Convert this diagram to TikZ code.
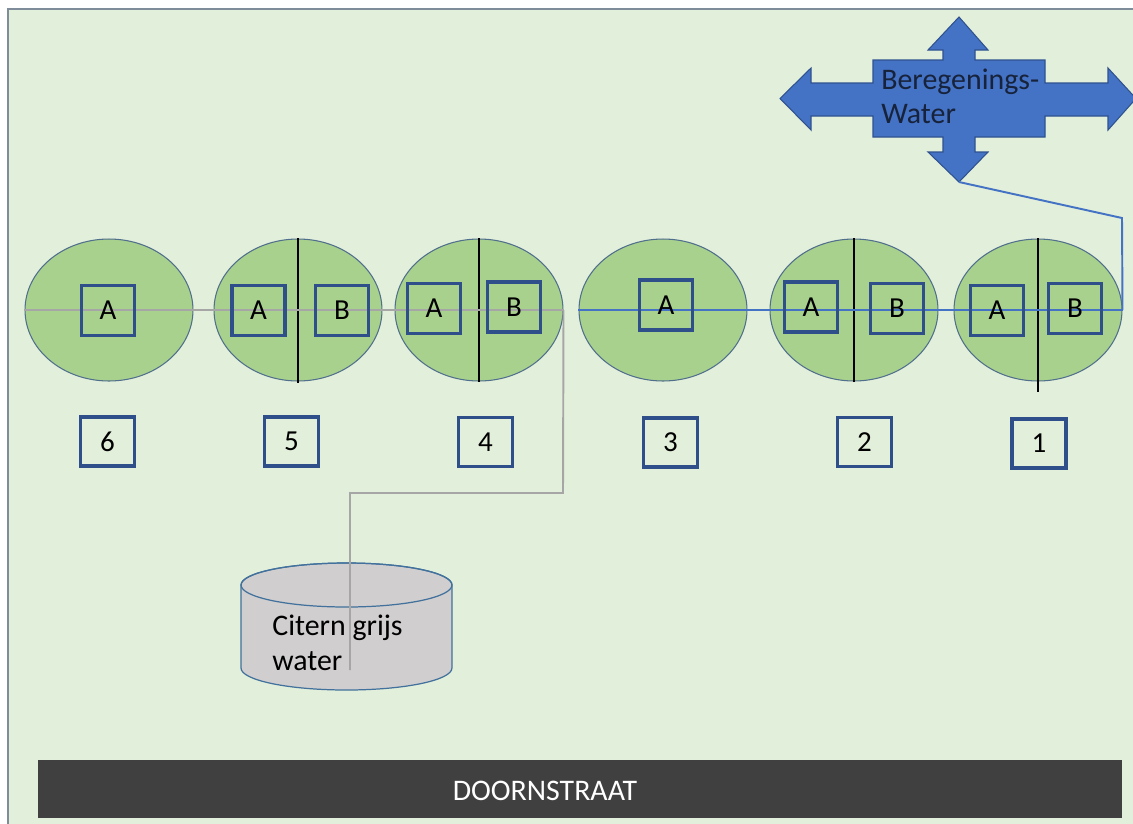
\documentclass[tikz,border=0pt]{standalone}
\usepackage{fontspec}
\setmainfont{Carlito}
\usetikzlibrary{shapes.geometric}
\definecolor{bggreen}{HTML}{E2EFDA}
\definecolor{frame}{HTML}{7F8C99}
\definecolor{ellfill}{HTML}{A9D18E}
\definecolor{elldraw}{HTML}{4F6F8C}
\definecolor{sqdraw}{HTML}{2E4F8A}
\definecolor{pipegray}{HTML}{A6A6A6}
\definecolor{pipeblue}{HTML}{4472C4}
\definecolor{arrfill}{HTML}{4472C4}
\definecolor{arrdraw}{HTML}{2F528F}
\definecolor{tankfill}{HTML}{D0CECE}
\definecolor{tankdraw}{HTML}{41719C}
\definecolor{road}{HTML}{404040}
\definecolor{navytext}{HTML}{17223B}
\tikzset{
  bed/.style={ellipse, draw=elldraw, fill=ellfill, line width=0.6pt, minimum width=3.36cm, minimum height=2.84cm, inner sep=0pt},
  sq/.style={draw=sqdraw, line width=2.1pt, minimum width=1.06cm, minimum height=1.0cm, inner sep=0pt, font=\fontsize{16.5}{19}\selectfont},
  num/.style={draw=sqdraw, line width=2.1pt, minimum width=1.08cm, minimum height=0.98cm, inner sep=0pt, font=\fontsize{16.5}{19}\selectfont},
  divider/.style={black, line width=1.2pt},
  graypipe/.style={pipegray, line width=1.1pt},
  bluepipe/.style={pipeblue, line width=1.1pt},
}
\begin{document}
\begin{tikzpicture}[x=0.02cm, y=-0.02cm]
\useasboundingbox (0,0) rectangle (1133,823);
\fill[white] (0,0) rectangle (1133,823);
\filldraw[fill=bggreen, draw=frame, line width=0.9pt] (8,9) rectangle (1145,835);

% beds
\node[bed] (e6) at (109,310) {};
\node[bed] (e5) at (298,310) {};
\node[bed] (e4) at (479,310) {};
\node[bed] (e3) at (663,310) {};
\node[bed] (e2) at (854,310) {};
\node[bed] (e1) at (1038,310) {};

% dividers
\draw[divider] (e5.north) -- (298,383);
\draw[divider] (e4.north) -- (e4.south);
\draw[divider] (e2.north) -- (e2.south);
\draw[divider] (e1.north) -- (1038,392);

% pipes
\draw[graypipe] (e6.west) -- (e4.east);
\draw[bluepipe] (e3.west) -- (e1.east);

% letter squares
\node[sq] (s6a) at (108,310.5) {A};
\node[sq] (s5a) at (258.5,310.5) {A};
\node[sq] (s5b) at (342,310.5) {B};
\node[sq] (s4a) at (434,308.5) {A};
\node[sq] (s4b) at (514,307) {B};
\node[sq] (s3a) at (666,305) {A};
\node[sq] (s2a) at (811,307) {A};
\node[sq] (s2b) at (897,308.5) {B};
\node[sq] (s1a) at (997,310.5) {A};
\node[sq] (s1b) at (1075,308.5) {B};

% numbers
\node[num] (n6) at (107.5,441.5) {6};
\node[num] (n5) at (291.5,441.5) {5};
\node[num] (n4) at (485.5,442) {4};
\node[num] (n3) at (670.5,442.5) {3};
\node[num] (n2) at (864.5,442) {2};
\node[num] (n1) at (1039,443.5) {1};

% tank
\filldraw[fill=tankfill, draw=tankdraw, line width=0.7pt]
  (241,585) -- (241,668) arc[start angle=180, end angle=360, x radius=2.11cm, y radius=0.44cm]
  -- (452,585) arc[start angle=0, end angle=180, x radius=2.11cm, y radius=0.44cm] -- cycle;
\draw[tankdraw, line width=0.7pt] (346.5,585) ellipse[x radius=2.11cm, y radius=0.44cm];
\coordinate (tankin) at (350,670);
\node[anchor=west, align=left, inner sep=0pt, font=\fontsize{17}{20}\selectfont] (tank) at (272,643) {Citern grijs\\water};

% gray pipe to tank
\draw[graypipe] (e4.east) -- (563,493) -| (tankin);

% quad arrow
\filldraw[fill=arrfill, draw=arrdraw, line width=0.6pt]
  (959,17) -- (988,50) -- (975,50) -- (975,60) -- (1045,60) -- (1045,83) -- (1108,83) -- (1108,68)
  -- (1136,98.5) -- (1108,130) -- (1108,116) -- (1045,116) -- (1045,137) -- (975,137) -- (975,152)
  -- (988,152) -- (959,182) -- (928,152) -- (943,152) -- (943,137) -- (873,137) -- (873,116)
  -- (811,116) -- (811,130) -- (780,98.5) -- (811,68) -- (811,83) -- (873,83) -- (873,60)
  -- (943,60) -- (943,50) -- (928,50) -- cycle;
\coordinate (tip) at (959,182);
\node[anchor=west, align=left, inner sep=0pt, text=navytext, font=\fontsize{17}{19.5}\selectfont] (water) at (881,96) {Beregenings-\\Water};

% blue pipe to sprinkler
\draw[bluepipe] (e1.east) -- (1122,218) -- (tip);

% road
\node[fill=road, minimum width=21.68cm, minimum height=1.16cm, inner sep=0pt] (road) at (580,789) {};
\node[text=white, inner sep=0pt, font=\fontsize{17}{20}\selectfont] (roadname) at (545,791) {DOORNSTRAAT};
\end{tikzpicture}
\end{document}
